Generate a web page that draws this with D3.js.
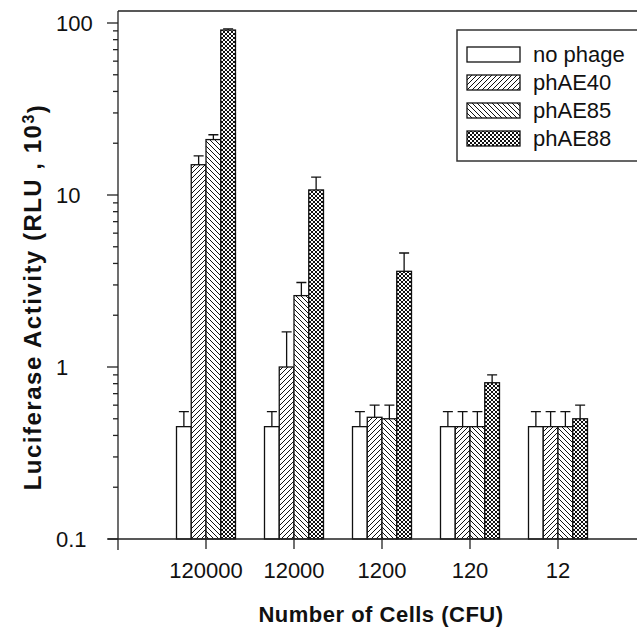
<!DOCTYPE html>
<html>
<head>
<meta charset="utf-8">
<title>Luciferase activity</title>
<style>
body { margin: 0; background: #fff; }
svg text { font-family: "Liberation Sans", Arial, sans-serif; fill: #111; }
.axis-line { stroke: #222; stroke-width: 1.3; fill: none; }
.bar { stroke: #111; stroke-width: 1.3; }
.err { stroke: #111; stroke-width: 1.3; fill: none; }
</style>
</head>
<body>
<svg width="637" height="628"></svg>
<script src="https://d3js.org/d3.v7.min.js"></script>
<script>
// values (RLU x 10^3)
var groups = ["120000", "12000", "1200", "120", "12"];
var series = ["no phage", "phAE40", "phAE85", "phAE88"];
var noPhage    = [0.45, 0.45, 0.45, 0.45, 0.45];
var noPhageErr = [0.1, 0.1, 0.1, 0.1, 0.1];
var phAE40     = [15, 1.0, 0.51, 0.45, 0.45];
var phAE40Err  = [1.9, 0.6, 0.09, 0.1, 0.1];
var phAE85     = [21, 2.6, 0.5, 0.45, 0.45];
var phAE85Err  = [1.4, 0.5, 0.1, 0.1, 0.1];
var phAE88     = [91, 10.7, 3.6, 0.81, 0.5];
var phAE88Err  = [1.5, 2.0, 1.0, 0.09, 0.1];
var yTicks = [0.1, 1, 10, 100];
var yTickLabels = ["0.1", "1", "10", "100"];

var values = [noPhage, phAE40, phAE85, phAE88];
var errors = [noPhageErr, phAE40Err, phAE85Err, phAE88Err];
var fills = ["#fff", "url(#p40)", "url(#p85)", "url(#p88)"];

var svg = d3.select("svg");

// hatch patterns
var defs = svg.append("defs");
function pattern(id, size, d) {
  defs.append("pattern")
      .attr("id", id)
      .attr("patternUnits", "userSpaceOnUse")
      .attr("width", size).attr("height", size)
    .call(function(p) {
      p.append("rect").attr("width", size).attr("height", size).attr("fill", "#fff");
      p.append("path").attr("d", d).attr("stroke", "#111").attr("stroke-width", 1).attr("fill", "none");
    });
}
pattern("p40", 5, "M0,5L5,0M-1,1L1,-1M4,6L6,4");
pattern("p85", 5, "M0,0L5,5M-1,4L1,6M4,-1L6,1");
pattern("p88", 4, "M0,4L4,0M-1,1L1,-1M3,5L5,3M0,0L4,4M-1,3L1,5M3,-1L5,1");

var left = 118, bottom = 539;

var y = d3.scaleLog().domain([0.1, 100]).range([bottom, 23]);
var x0 = d3.scalePoint().domain(groups).range([206, 558]);
var x1 = d3.scaleBand().domain(series).range([-29.5, 29.5]);

// bars
var rows = [];
groups.forEach(function(g, gi) {
  series.forEach(function(s, si) {
    rows.push({g: g, s: s, si: si, v: values[si][gi], e: errors[si][gi]});
  });
});

var bars = svg.append("g");
bars.selectAll("rect").data(rows).enter().append("rect")
    .attr("class", "bar")
    .attr("x", function(d) { return x0(d.g) + x1(d.s); })
    .attr("width", x1.bandwidth())
    .attr("y", function(d) { return y(d.v); })
    .attr("height", function(d) { return bottom - y(d.v); })
    .attr("fill", function(d) { return fills[d.si]; });

// error bars (upper only)
var eb = svg.append("g");
eb.selectAll("path").data(rows).enter().append("path")
    .attr("class", "err")
    .attr("d", function(d) {
      var cx = x0(d.g) + x1(d.s) + x1.bandwidth() / 2;
      var top = y(d.v + d.e);
      return "M" + cx + "," + y(d.v) + "V" + top + "M" + (cx - 5) + "," + top + "H" + (cx + 5);
    });

// axes
svg.append("path").attr("class", "axis-line")
    .attr("d", "M" + left + ",11V550M108," + bottom + "H637M" + left + ",11H637");

var minor = y.ticks().filter(function(t) { return yTicks.indexOf(t) < 0; });
svg.append("g").selectAll("line").data(minor).enter().append("line")
    .attr("class", "axis-line")
    .attr("x1", left - 5).attr("x2", left)
    .attr("y1", function(d) { return y(d); }).attr("y2", function(d) { return y(d); });
svg.append("g").selectAll("line").data(yTicks).enter().append("line")
    .attr("class", "axis-line")
    .attr("x1", left - 11).attr("x2", left)
    .attr("y1", function(d) { return y(d); }).attr("y2", function(d) { return y(d); });
svg.append("g").selectAll("text").data(yTicks).enter().append("text")
    .attr("x", 56)
    .attr("y", function(d) { return y(d); })
    .attr("dy", "0.36em")
    .style("font-size", "22px")
    .text(function(d, i) { return yTickLabels[i]; });

svg.append("g").selectAll("line").data(groups).enter().append("line")
    .attr("class", "axis-line")
    .attr("x1", function(d) { return x0(d); }).attr("x2", function(d) { return x0(d); })
    .attr("y1", bottom).attr("y2", bottom + 10);
svg.append("g").selectAll("text").data(groups).enter().append("text")
    .attr("x", function(d) { return x0(d); })
    .attr("y", 578)
    .attr("text-anchor", "middle")
    .style("font-size", "22px")
    .text(function(d) { return d; });

// titles
svg.append("text")
    .attr("x", 381).attr("y", 622)
    .attr("text-anchor", "middle")
    .style("font-size", "22px").style("font-weight", "bold")
    .style("letter-spacing", "0.5px")
    .text("Number of Cells (CFU)");

var yt = svg.append("text")
    .attr("transform", "translate(41,297) rotate(-90)")
    .attr("text-anchor", "middle")
    .style("font-size", "24px").style("font-weight", "bold")
    .style("letter-spacing", "1.5px");
yt.append("tspan").text("Luciferase Activity (RLU , 10");
yt.append("tspan").attr("dy", "-0.45em").style("font-size", "16px").text("3");
yt.append("tspan").attr("dy", "0.45em").text(")");

// legend
var lg = svg.append("g").attr("transform", "translate(457,30)");
lg.append("rect").attr("width", 200).attr("height", 131)
    .attr("fill", "#fff").attr("stroke", "#333").attr("stroke-width", 1.5);
var item = lg.selectAll("g.item").data(series).enter().append("g")
    .attr("class", "item")
    .attr("transform", function(d, i) { return "translate(10," + (17 + i * 28) + ")"; });
item.append("rect").attr("class", "bar")
    .attr("width", 53).attr("height", 15)
    .attr("fill", function(d, i) { return fills[i]; });
item.append("text").attr("x", 66).attr("y", 15)
    .style("font-size", "22px")
    .text(function(d) { return d; });
</script>
</body>
</html>
